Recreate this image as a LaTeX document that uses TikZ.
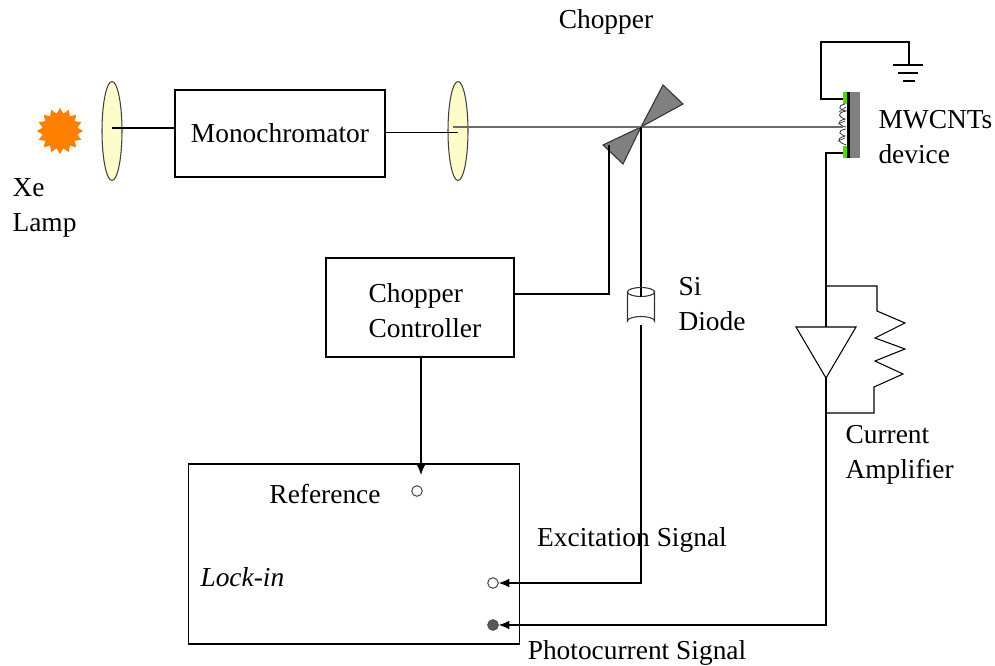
\documentclass[tikz,border=0pt]{standalone}
\usepackage{fontspec}
\setmainfont{Liberation Serif}
\usetikzlibrary{arrows.meta, shapes.geometric, positioning}

\begin{document}
\begin{tikzpicture}[
        x=0.02cm, y=-0.02cm, % one unit = one pixel of the layout grid
        line width=0.6pt,
        font=\fontsize{15.6}{19.8}\selectfont,
        box/.style={draw, rectangle, inner sep=0pt},
        lens/.style={draw=black!75, fill=yellow!20, ellipse, inner sep=0pt,
            minimum width=0.4cm, minimum height=1.98cm},
        beam/.style={black!58, line width=0.8pt},
        sig/.style={-{Latex[length=6pt, width=5pt]}},
        port/.style={circle, draw=black!70, inner sep=0pt, minimum size=6pt},
        label/.style={inner sep=0pt, align=left}
    ]
    \useasboundingbox (0,0) rectangle (995,666);

    % --- source, lenses and monochromator ---
    \node[star, star points=16, star point ratio=1.3, fill=orange, draw=orange,
          inner sep=0pt, minimum size=0.88cm] (lamp) at (60,131) {};
    \node[label, anchor=west] (lamptxt) at (12,208) {Xe\\Lamp};
    \node[lens] (lensA) at (112,131) {};
    \node[box, minimum width=4.2cm, minimum height=1.74cm] (mono) at (280,133.5) {Monochromator};
    \node[lens] (lensB) at (458,131) {};
    \draw ([yshift=0.06cm]lensA.center) -- ([yshift=0.06cm]lensA.center -| mono.west);
    \draw ([yshift=0.02cm]mono.east) -- ([yshift=0.02cm]mono.east -| lensB.center);

    % --- chopper blades ---
    \coordinate (chop) at (641,127);
    \filldraw[fill=black!50, draw=black!80] (chop) -- (663,85) -- (683,104) -- cycle;
    \filldraw[fill=black!50, draw=black!80] (chop) -- (603,145) -- (623,164) -- cycle;
    \node (choptxt) at (606,22) {Chopper};

    % --- MWCNTs device ---
    \coordinate (dev) at (843,127);
    \fill[green!60!yellow!85!black] (843,92) rectangle (847,158);
    \fill[white] (836,104) rectangle (847,146);
    \fill[black] (847,92) rectangle (850,158);
    \fill[black!50] (850,92) rectangle (860,158);
    \draw[black!80, line width=0.45pt]
        (845,104) .. controls (836,106) and (840,110) .. (846,111)
        .. controls (835,113) and (840,118) .. (845,119)
        .. controls (834,122) and (841,126) .. (846,127);
    \draw[black!80, line width=0.45pt]
        (846,129) .. controls (835,131) and (841,135) .. (845,136)
        .. controls (834,139) and (840,143) .. (846,145);
    \draw[black!70, line width=0.45pt] (839,112) -- (846,107) (838,124) -- (845,121)
        (838,141) -- (845,138);
    \node[label, anchor=west] (devtxt) at (878,137) {MWCNTs\\device};
    \draw[beam] (453,127) -- (dev);

    % --- ground connection ---
    \coordinate (gnd) at (909,65);
    \draw (843,99) -- (821,99) -- (821,42) -- (909,42) -- (gnd);
    \draw (893,65) -- (923,65) (898,73) -- (918,73) (903,81) -- (915,81);

    % --- chopper controller and Si diode ---
    \node[box, minimum width=3.76cm, minimum height=1.98cm] (ctrl) at (420,307.5) {};
    \node[label, anchor=west] (ctrltxt) at (368,311) {Chopper\\Controller};
    \coordinate (arm) at (609,145);
    \draw ([yshift=0.27cm]ctrl.east) -| (arm);
    \coordinate (diotop) at (641,292);
    \coordinate (diobot) at (641,325);
    \draw (chop) -- (diotop);
    \filldraw[fill=white, draw=black!80]
        (627.5,292) -- (627.5,321) arc[start angle=180, end angle=360, x radius=13.5, y radius=4.5]
        -- (654.5,292) arc[start angle=0, end angle=180, x radius=13.5, y radius=4.5] -- cycle;
    \draw[black!80] (627.5,292) arc[start angle=180, end angle=360, x radius=13.5, y radius=4.5];
    \draw (diotop) -- (641,296.5);
    \node[label, anchor=west] (diodetxt) at (678,304) {Si\\Diode};

    % --- current amplifier ---
    \coordinate (ampin) at (826,327);
    \coordinate (ampout) at (826,378);
    \draw (843,153) -- (826,153) -- (ampin);
    \draw (796,327) -- (856,327) -- (ampout) -- cycle;
    \draw (826,286) -- (877,286) -- (877,311) -- (905,323) -- (875,338) -- (905,349)
        -- (875,361) -- (903,374) -- (874,387) -- (874,413) -- (826,413);
    \node[label, anchor=west] (amptxt) at (845,455) {Current\\Amplifier};

    % --- lock-in amplifier ---
    \node[box, minimum width=6.64cm, minimum height=3.6cm] (lockin) at (354,554) {};
    \node (reftxt) at (325,494) {Reference};
    \node[label, anchor=west] (locktxt) at (200,577) {\itshape Lock-in};
    \node[port] (refport) at (417,491) {};
    \node[port] (excport) at (493,583) {};
    \node[port, fill=black!65] (pcport) at (493,625) {};
    \coordinate (refin) at (421,475);
    \draw[sig] (ctrl.south -| refin) -- (refin);
    \draw[sig] (diobot) |- (excport.east);
    \draw[sig] (ampout) |- (pcport.east);
    \node (exctxt) at (632,540) {Excitation Signal};
    \node (pctxt) at (637,653) {Photocurrent Signal};
\end{tikzpicture}
\end{document}
